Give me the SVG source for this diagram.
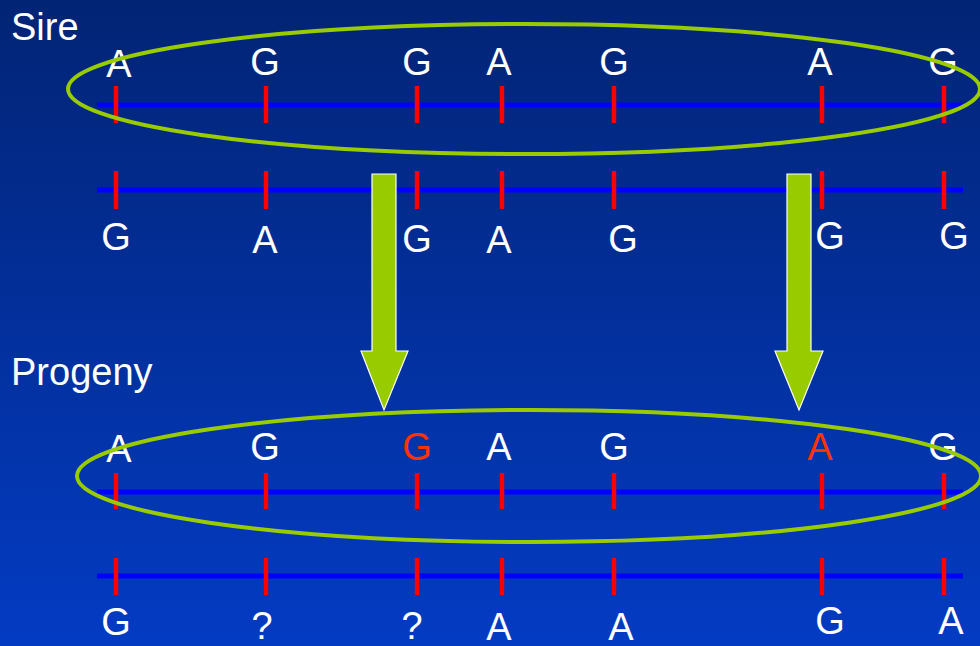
<svg xmlns="http://www.w3.org/2000/svg" width="980" height="646" viewBox="0 0 980 646">
<defs>
<linearGradient id="bg" x1="0" y1="0" x2="0" y2="1">
<stop offset="0" stop-color="#022475"/>
<stop offset="1" stop-color="#033bc3"/>
</linearGradient>
<style>
text{font-family:"Liberation Sans",Arial,sans-serif;font-size:38px;fill:#ffffff;text-anchor:middle}
.lbl{text-anchor:start}
.red{fill:#ff3300}
.strand{stroke:#0000ff;stroke-width:5}
.tick{stroke:#ff0000;stroke-width:4.5}
.oval{fill:none;stroke:#99cc00;stroke-width:4}
.arrow{fill:#99cc00;stroke:#ffffff;stroke-width:1.2}
</style>
</defs>
<rect width="980" height="646" fill="url(#bg)"/>

<g id="labels">
<text class="lbl" x="11" y="40">Sire</text>
<text class="lbl" x="11" y="385">Progeny</text>
</g>

<g id="sire">
<line class="strand" x1="97" y1="105" x2="963" y2="105"/>
<g class="ticks">
<line class="tick" x1="116" y1="86" x2="116" y2="123"/>
<line class="tick" x1="266" y1="86" x2="266" y2="123"/>
<line class="tick" x1="417" y1="86" x2="417" y2="123"/>
<line class="tick" x1="502" y1="86" x2="502" y2="123"/>
<line class="tick" x1="614" y1="86" x2="614" y2="123"/>
<line class="tick" x1="822" y1="86" x2="822" y2="123"/>
<line class="tick" x1="944" y1="86" x2="944" y2="123"/>
</g>
<text x="119" y="77">A</text>
<text x="265" y="75">G</text>
<text x="417" y="75">G</text>
<text x="499" y="75">A</text>
<text x="614" y="75">G</text>
<text x="820" y="75">A</text>
<text x="943" y="75">G</text>

<line class="strand" x1="97" y1="190" x2="963" y2="190"/>
<line class="tick" x1="116" y1="171" x2="116" y2="209"/>
<line class="tick" x1="266" y1="171" x2="266" y2="209"/>
<line class="tick" x1="417" y1="171" x2="417" y2="209"/>
<line class="tick" x1="502" y1="171" x2="502" y2="209"/>
<line class="tick" x1="614" y1="171" x2="614" y2="209"/>
<line class="tick" x1="822" y1="171" x2="822" y2="209"/>
<line class="tick" x1="944" y1="171" x2="944" y2="209"/>
<text x="116" y="250">G</text>
<text x="265" y="253">A</text>
<text x="417" y="252">G</text>
<text x="499" y="253">A</text>
<text x="623" y="252">G</text>
<text x="830" y="249">G</text>
<text x="954" y="249">G</text>
</g>

<g id="sire-oval">
<ellipse class="oval" cx="524" cy="89" rx="456" ry="65"/>
</g>

<g id="progeny">
<line class="strand" x1="97" y1="492" x2="963" y2="492"/>
<line class="tick" x1="116" y1="473" x2="116" y2="509"/>
<line class="tick" x1="266" y1="473" x2="266" y2="509"/>
<line class="tick" x1="417" y1="473" x2="417" y2="509"/>
<line class="tick" x1="502" y1="473" x2="502" y2="509"/>
<line class="tick" x1="614" y1="473" x2="614" y2="509"/>
<line class="tick" x1="822" y1="473" x2="822" y2="509"/>
<line class="tick" x1="944" y1="473" x2="944" y2="509"/>
<text x="119" y="462">A</text>
<text x="265" y="460">G</text>
<text class="red" x="417" y="460">G</text>
<text x="499" y="460">A</text>
<text x="614" y="460">G</text>
<text class="red" x="820" y="460">A</text>
<text x="943" y="460">G</text>

<line class="strand" x1="97" y1="576" x2="963" y2="576"/>
<line class="tick" x1="116" y1="558" x2="116" y2="595"/>
<line class="tick" x1="266" y1="558" x2="266" y2="595"/>
<line class="tick" x1="417" y1="558" x2="417" y2="595"/>
<line class="tick" x1="502" y1="558" x2="502" y2="595"/>
<line class="tick" x1="614" y1="558" x2="614" y2="595"/>
<line class="tick" x1="822" y1="558" x2="822" y2="595"/>
<line class="tick" x1="944" y1="558" x2="944" y2="595"/>
<text x="116" y="635">G</text>
<text x="262" y="639">?</text>
<text x="412" y="639">?</text>
<text x="499" y="640">A</text>
<text x="621" y="640">A</text>
<text x="830" y="634">G</text>
<text x="951" y="634">A</text>
</g>

<g id="progeny-oval">
<ellipse class="oval" cx="529" cy="476" rx="452" ry="66"/>
</g>

<g id="connectors">
<polygon class="arrow" points="372,174 396,174 396,351 408,351 384,410 361,351 372,351"/>
<polygon class="arrow" points="787,174 811,174 811,351 823,351 799,410 775,351 787,351"/>
</g>
</svg>
